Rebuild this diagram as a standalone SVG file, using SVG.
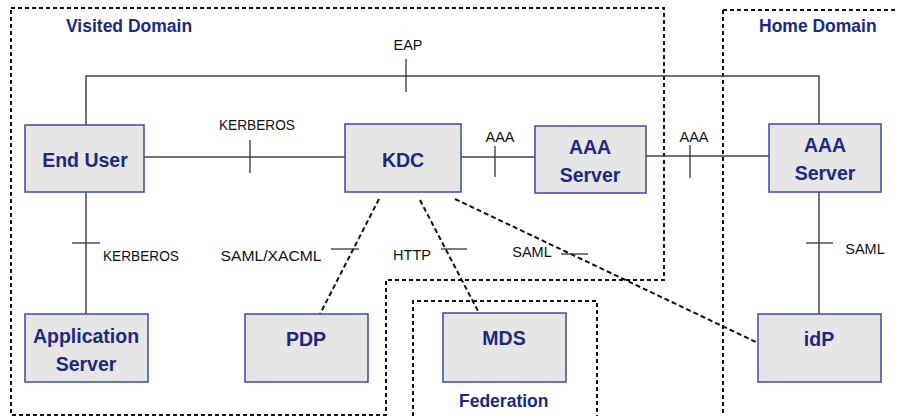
<svg xmlns="http://www.w3.org/2000/svg" width="898" height="416" viewBox="0 0 898 416">
  <style>
    .domain { fill: none; stroke: #111; stroke-width: 2; stroke-dasharray: 4 3; }
    .dtitle { font-family: "Liberation Sans", Arial, sans-serif; font-weight: bold; font-size: 17.5px; fill: #1B2A80; }
    .box { fill: #E6E6E6; stroke: #3A4A9E; stroke-width: 1.5; }
    .name { font-family: "Liberation Sans", Arial, sans-serif; font-weight: bold; font-size: 19.5px; fill: #1B2A80; text-anchor: middle; }
    .link { fill: none; stroke: #444; stroke-width: 1.5; }
    .dash { fill: none; stroke: #111; stroke-width: 2; stroke-dasharray: 5 3; }
    .tick { stroke: #333; stroke-width: 1.3; }
    .lbl { font-family: "Liberation Sans", Arial, sans-serif; font-size: 14.5px; fill: #111; text-anchor: middle; }
  </style>

  <!-- domain boundaries -->
  <g id="domains">
    <path class="domain" d="M11,8 H664 V280 H386 V415 H11 Z"/>
    <text class="dtitle" x="66" y="32">Visited Domain</text>
    <path class="domain" d="M723,10 H900 M723,10 V416"/>
    <text class="dtitle" x="759" y="32">Home Domain</text>
    <path class="domain" d="M413,416 V301 H597 V416"/>
    <text class="dtitle" x="459" y="407">Federation</text>
  </g>

  <!-- connectors -->
  <g id="connectors">
    <!-- EAP -->
    <path class="link" d="M86,125 V76 H819 V124"/>
    <line class="tick" x1="406" y1="59" x2="406" y2="92"/>
    <text class="lbl" x="408" y="50">EAP</text>
    <!-- End User - KDC -->
    <line class="link" x1="144" y1="157" x2="345" y2="157" stroke="#222"/>
    <line class="tick" x1="250" y1="140" x2="250" y2="173"/>
    <text class="lbl" x="257" y="130" textLength="76" lengthAdjust="spacingAndGlyphs">KERBEROS</text>
    <!-- KDC - AAA Server -->
    <line class="link" x1="461" y1="157" x2="535" y2="157"/>
    <line class="tick" x1="495" y1="146" x2="495" y2="177"/>
    <text class="lbl" x="500" y="142">AAA</text>
    <!-- AAA Server - AAA Server -->
    <line class="link" x1="646" y1="156" x2="769" y2="156"/>
    <line class="tick" x1="690" y1="145" x2="690" y2="178"/>
    <text class="lbl" x="694" y="142">AAA</text>
    <!-- End User - Application Server -->
    <line class="link" x1="86" y1="192" x2="86" y2="314"/>
    <line class="tick" x1="72" y1="243" x2="100" y2="243"/>
    <text class="lbl" x="141" y="261" textLength="76" lengthAdjust="spacingAndGlyphs">KERBEROS</text>
    <!-- AAA Server - idP -->
    <line class="link" x1="819" y1="192" x2="819" y2="314"/>
    <line class="tick" x1="806" y1="243" x2="833" y2="243"/>
    <text class="lbl" x="865" y="254">SAML</text>
    <!-- KDC - PDP -->
    <line class="dash" x1="379" y1="199" x2="320" y2="314"/>
    <line class="tick" x1="331" y1="249" x2="359" y2="249"/>
    <text class="lbl" x="271" y="261" textLength="101" lengthAdjust="spacingAndGlyphs">SAML/XACML</text>
    <!-- KDC - MDS -->
    <line class="dash" x1="420" y1="200" x2="479" y2="313"/>
    <line class="tick" x1="441" y1="249" x2="467" y2="249"/>
    <text class="lbl" x="412" y="260">HTTP</text>
    <!-- KDC - idP -->
    <line class="dash" x1="455" y1="199" x2="758" y2="343"/>
    <line class="tick" x1="561" y1="254" x2="588" y2="254"/>
    <text class="lbl" x="532" y="257">SAML</text>
  </g>

  <g id="end-user">
    <rect class="box" x="25" y="125" width="119" height="67"/>
    <text class="name" x="85" y="167">End User</text>
  </g>
  <g id="kdc">
    <rect class="box" x="345" y="124" width="116" height="68"/>
    <text class="name" x="403" y="167">KDC</text>
  </g>
  <g id="aaa-visited">
    <rect class="box" x="535" y="126" width="111" height="67"/>
    <text class="name" x="590" y="154">AAA</text>
    <text class="name" x="590" y="182">Server</text>
  </g>
  <g id="aaa-home">
    <rect class="box" x="769" y="124" width="112" height="68"/>
    <text class="name" x="825" y="152">AAA</text>
    <text class="name" x="825" y="180">Server</text>
  </g>
  <g id="app-server">
    <rect class="box" x="25" y="314" width="123" height="68"/>
    <text class="name" x="86" y="343">Application</text>
    <text class="name" x="86" y="371">Server</text>
  </g>
  <g id="pdp">
    <rect class="box" x="245" y="314" width="123" height="68"/>
    <text class="name" x="306" y="346">PDP</text>
  </g>
  <g id="mds">
    <rect class="box" x="443" y="313" width="123" height="69"/>
    <text class="name" x="504" y="345">MDS</text>
  </g>
  <g id="idp">
    <rect class="box" x="758" y="314" width="123" height="68"/>
    <text class="name" x="819" y="346">idP</text>
  </g>
</svg>
